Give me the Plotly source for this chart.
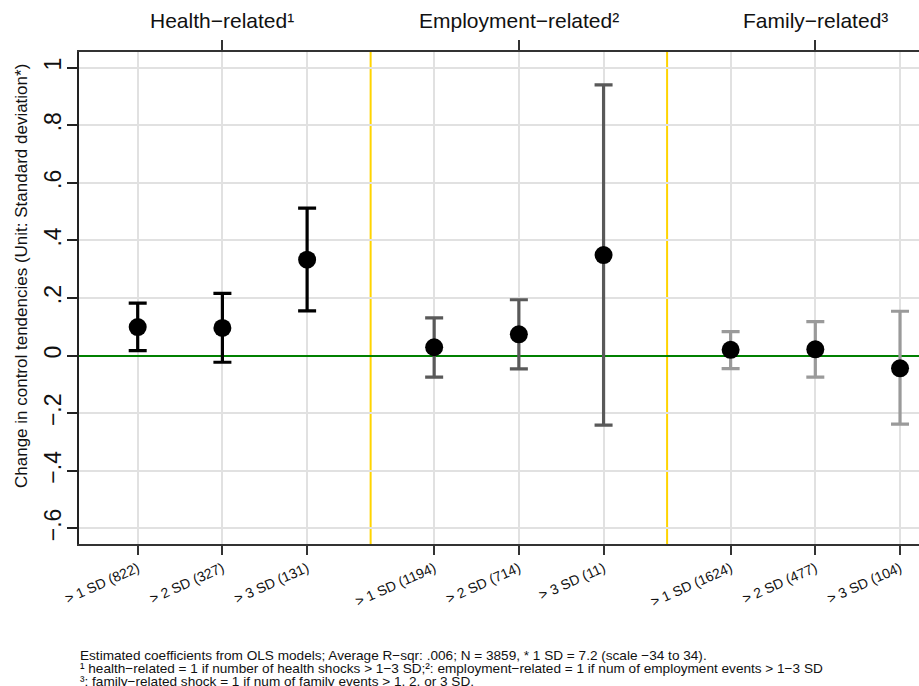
import plotly.graph_objects as go

# Shock groups and the three SD thresholds in each
groups = ["Health\u2212related\u00b9", "Employment\u2212related\u00b2", "Family\u2212related\u00b3"]
group_pos = [[1, 2, 3], [4.5, 5.5, 6.5], [8, 9, 10]]
tick_labels = [
    "> 1 SD (822)", "> 2 SD (327)", "> 3 SD (131)",
    "> 1 SD (1194)", "> 2 SD (714)", "> 3 SD (11)",
    "> 1 SD (1624)", "> 2 SD (477)", "> 3 SD (104)",
]

# OLS point estimates with 95% confidence bounds
health_coef = [0.099, 0.096, 0.333]
health_lo = [0.017, -0.023, 0.155]
health_hi = [0.182, 0.216, 0.512]

employ_coef = [0.029, 0.074, 0.349]
employ_lo = [-0.075, -0.046, -0.241]
employ_hi = [0.131, 0.194, 0.940]

family_coef = [0.020, 0.022, -0.044]
family_lo = [-0.045, -0.075, -0.238]
family_hi = [0.083, 0.118, 0.154]

bar_colors = ["#000000", "#595959", "#9a9a9a"]
separators = [3.75, 7.25]

y_ticks = [-0.6, -0.4, -0.2, 0, 0.2, 0.4, 0.6, 0.8, 1]
y_ticktext = ["\u2212.6", "\u2212.4", "\u2212.2", "0", ".2", ".4", ".6", ".8", "1"]
y_title = "Change in control tendencies (Unit: Standard deviation*)"

footnote_lines = [
    "Estimated coefficients from OLS models; Average R\u2212sqr: .006; N = 3859, * 1 SD = 7.2 (scale \u221234 to 34).",
    "\u00b9 health\u2212related = 1 if number of health shocks > 1\u22123 SD;\u00b2: employment\u2212related = 1 if num of employment events > 1\u22123 SD",
    "\u00b3: family\u2212related shock = 1 if num of family events > 1, 2, or 3 SD.",
]

FONT = "Liberation Sans, Arial, sans-serif"
W, H = 919, 686
M_L, M_T, M_B = 79, 52, 142
PLOT_H = H - M_T - M_B

fig = go.Figure()

series = [
    (health_coef, health_lo, health_hi),
    (employ_coef, employ_lo, employ_hi),
    (family_coef, family_lo, family_hi),
]
for pos, (coef, lo, hi), col in zip(group_pos, series, bar_colors):
    fig.add_trace(go.Scatter(
        x=pos, y=coef, mode="markers",
        marker=dict(color="black", size=18),
        error_y=dict(
            type="data", symmetric=False,
            array=[h - c for h, c in zip(hi, coef)],
            arrayminus=[c - l for c, l in zip(coef, lo)],
            color=col, thickness=3.2, width=9,
        ),
        showlegend=False, hoverinfo="skip",
    ))

# invisible trace so the top axis gets drawn
fig.add_trace(go.Scatter(x=[2, 9], y=[0, 0], xaxis="x2", mode="markers",
                         marker=dict(opacity=0), showlegend=False, hoverinfo="skip"))

all_pos = [p for g in group_pos for p in g]
x_range = [0.307, 10.224]

for sx in separators:
    fig.add_shape(type="line", xref="x", yref="paper", x0=sx, x1=sx, y0=0, y1=1,
                  line=dict(color="#FFD400", width=2), layer="below")

group_centers = [g[1] for g in group_pos]
for name, cx in zip(groups, group_centers):
    fig.add_annotation(x=cx, xref="x", y=1.0, yref="paper", yshift=32,
                       text=name, showarrow=False,
                       font=dict(family=FONT, size=21, color="#111"),
                       xanchor="center", yanchor="middle")

# vertical axis title, placed in pixels relative to the plot area
title_center_px = 276
fig.add_annotation(x=0, xref="paper", xshift=-(M_L - 21), xanchor="center",
                   y=1 - (title_center_px - M_T) / PLOT_H, yref="paper", yanchor="middle",
                   text=y_title, textangle=-90, showarrow=False,
                   font=dict(family=FONT, size=17, color="#111"))

# footnote, one line per annotation for tight spacing
for i, line in enumerate(footnote_lines):
    fig.add_annotation(x=0, xref="paper", xanchor="left", y=0, yref="paper",
                       yanchor="middle", yshift=-(111 + 13 * i), text=line,
                       align="left", showarrow=False, borderpad=0,
                       font=dict(family=FONT, size=13.6, color="#111"))

fig.update_layout(
    width=W, height=H,
    margin=dict(l=M_L, r=0, t=M_T, b=M_B),
    paper_bgcolor="white", plot_bgcolor="white",
    font=dict(family=FONT, color="#111"),
    xaxis=dict(
        range=x_range, tickmode="array", tickvals=all_pos, ticktext=tick_labels,
        tickangle=-24, tickfont=dict(size=14, family=FONT),
        showgrid=True, gridcolor="#e1e1e1", gridwidth=2,
        showline=True, linecolor="#333", linewidth=2,
        ticks="outside", ticklen=9, tickwidth=1.5, tickcolor="#333",
        zeroline=False,
    ),
    xaxis2=dict(
        range=x_range, overlaying="x", side="top",
        tickmode="array", tickvals=group_centers, showticklabels=False,
        showgrid=False, showline=True, linecolor="#333", linewidth=2,
        ticks="outside", ticklen=10, tickwidth=1.5, tickcolor="#333",
        zeroline=False,
    ),
    yaxis=dict(
        range=[-0.654, 1.054], tickmode="array", tickvals=y_ticks, ticktext=y_ticktext,
        tickangle=-90, tickfont=dict(size=23, family=FONT, color="#111"),
        ticklabelstandoff=-3,
        showgrid=True, gridcolor="#e1e1e1", gridwidth=2,
        zeroline=True, zerolinecolor="#008000", zerolinewidth=2,
        showline=True, linecolor="#222", linewidth=1.5,
        ticks="outside", ticklen=10, tickwidth=1.5, tickcolor="#222",
    ),
)

fig.write_html("out.html")
